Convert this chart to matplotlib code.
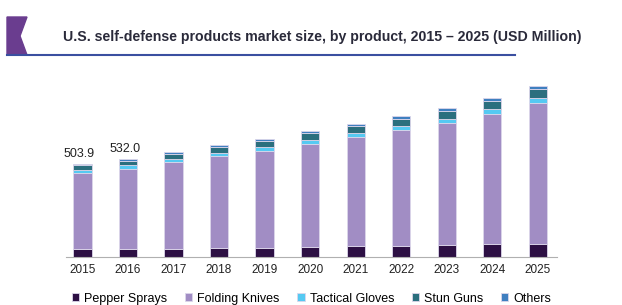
import numpy as np
import matplotlib.pyplot as plt
from matplotlib.patches import Polygon

plt.rcParams['font.family'] = ['Liberation Sans', 'DejaVu Sans']

years = ["2015", "2016", "2017", "2018", "2019", "2020", "2021", "2022", "2023", "2024", "2025"]
pepper_sprays = [42, 44, 46, 49, 51, 54, 57, 60, 64, 68, 72]
folding_knives = [413, 435, 467, 498, 526, 561, 592, 627, 663, 709, 765]
tactical_gloves = [16, 17, 18, 19, 19, 20, 21, 22, 22, 23, 24]
stun_guns = [25, 27, 29, 31, 33, 36, 38, 41, 44, 47, 50]
others = [8, 9, 9, 10, 11, 12, 13, 14, 14, 15, 16]
shown_labels = {0: "503.9", 1: "532.0"}

series = [
    ("Pepper Sprays", pepper_sprays, "#2d1044"),
    ("Folding Knives", folding_knives, "#a18dc4"),
    ("Tactical Gloves", tactical_gloves, "#55c9f2"),
    ("Stun Guns", stun_guns, "#2b6f7e"),
    ("Others", others, "#3f7fc0"),
]

fig = plt.figure(figsize=(6.22, 3.05), dpi=100)
ax = fig.add_axes([66 / 622, 48 / 305, 491 / 622, 184.5 / 305])

x = np.arange(len(years))
bottom = np.zeros(len(years))
for name, vals, col in series:
    ax.bar(x, vals, 0.4, bottom=bottom, color=col, label=name,
           edgecolor="#dcd6ea", linewidth=0.6)
    bottom += np.array(vals)

for i, txt in shown_labels.items():
    ax.text(x[i] - 0.07, bottom[i] + 22, txt, ha="center", va="bottom",
            fontsize=9, color="#222222")

ax.set_xlim(-0.36, 10.42)
ax.set_ylim(0, 1000)
ax.set_xticks(x)
ax.set_xticklabels(years, fontsize=8.5, color="#222222")
ax.tick_params(axis="x", length=0, pad=5)
ax.set_yticks([])
for s in ["top", "right", "left"]:
    ax.spines[s].set_visible(False)
ax.spines["bottom"].set_color("#b0b0b0")

ax.legend(loc="lower center", bbox_to_anchor=(0.5, -0.32), ncol=5, frameon=False,
          fontsize=9, handlelength=0.6, handleheight=0.6, handletextpad=0.4,
          columnspacing=1.4)

# header decoration
fig.patches.append(Polygon([[7 / 622, 1 - 17 / 305], [27 / 622, 1 - 17 / 305],
                            [20 / 622, 1 - 36 / 305], [27 / 622, 1 - 55 / 305],
                            [7 / 622, 1 - 55 / 305]], closed=True,
                           transform=fig.transFigure, color="#6a3d8f"))
fig.add_artist(plt.Line2D([7 / 622, 515 / 622], [1 - 55 / 305, 1 - 55 / 305],
                          transform=fig.transFigure, color="#3a4fa0", linewidth=1.5))
fig.text(63 / 622, 1 - 37 / 305,
         "U.S. self-defense products market size, by product, 2015 \u2013 2025 (USD Million)",
         fontsize=10.2, fontweight="bold", color="#2a2a3a", va="center", ha="left")

fig.savefig("out.png", dpi=100)
